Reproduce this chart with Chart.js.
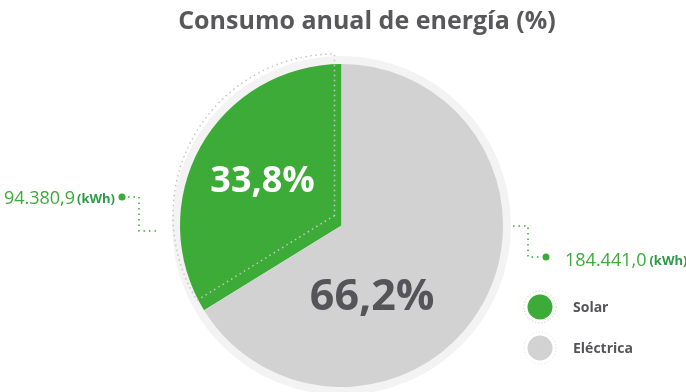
<!DOCTYPE html>
<html>
<head>
<meta charset="utf-8">
<title>Consumo anual de energía</title>
<script src="https://cdn.jsdelivr.net/npm/chart.js@4"></script>
<style>
  html, body { margin: 0; padding: 0; background: #fff; }
  canvas { display: block; }
</style>
</head>
<body>
<canvas id="energyChart" width="686" height="392"></canvas>
<script>
const labels = ['Solar', 'Eléctrica'];
const shares = [33.8, 66.2];
const consumptionKwh = [94380.9, 184441.0];
const colors = ['#3dab37', '#d2d2d2'];
const title = 'Consumo anual de energía (%)';

// 94380.9 -> "94.380,9"
function formatKwh(v) {
    const parts = v.toFixed(1).split('.');
    return parts[0].replace(/\B(?=(\d{3})+(?!\d))/g, '.') + ',' + parts[1];
}

function dotted(ctx, color, pts) {
    ctx.save();
    ctx.setLineDash([1.5, 4]);
    ctx.lineWidth = 1.5;
    ctx.strokeStyle = color;
    ctx.beginPath();
    ctx.moveTo(pts[0][0], pts[0][1]);
    for (let i = 1; i < pts.length; i++) ctx.lineTo(pts[i][0], pts[i][1]);
    ctx.stroke();
    ctx.restore();
}

function dot(ctx, x, y, r, color) {
    ctx.beginPath();
    ctx.arc(x, y, r, 0, Math.PI * 2);
    ctx.fillStyle = color;
    ctx.fill();
}

const decorations = {
    id: 'decorations',
    beforeDatasetsDraw(chart) {
        const ctx = chart.ctx;
        const a = chart.getDatasetMeta(0).data[0];
        // pale ring behind the pie
        ctx.save();
        dot(ctx, a.x, a.y, a.outerRadius + 8, '#f3f3f3');
        ctx.restore();
    },
    afterDatasetsDraw(chart) {
        const ctx = chart.ctx;
        const meta = chart.getDatasetMeta(0);
        const solar = meta.data[0];
        const elec = meta.data[1];
        const cx = solar.x, cy = solar.y, r = solar.outerRadius;

        // dotted outline of the solar slice, nudged up-left
        ctx.save();
        ctx.setLineDash([1.5, 3.5]);
        ctx.lineWidth = 1.5;
        ctx.strokeStyle = '#c6c6c6';
        const ox = cx - 7, oy = cy - 10;
        ctx.beginPath();
        ctx.moveTo(ox, oy);
        ctx.arc(ox, oy, r, solar.startAngle, solar.endAngle);
        ctx.closePath();
        ctx.stroke();
        ctx.restore();

        // percentage labels
        const pct = v => v.toFixed(1).replace('.', ',') + '%';
        ctx.save();
        ctx.textAlign = 'center';
        ctx.textBaseline = 'middle';
        const mid = (solar.startAngle + solar.endAngle) / 2;
        ctx.font = 'bold 36px "Open Sans"';
        ctx.fillStyle = '#ffffff';
        ctx.fillText(pct(shares[0]), cx + Math.cos(mid) * r * 0.56, cy + Math.sin(mid) * r * 0.56);
        ctx.font = 'bold 43px "Open Sans"';
        ctx.fillStyle = '#555559';
        ctx.fillText(pct(shares[1]), elec.x + r * 0.19, elec.y + r * 0.45);
        ctx.restore();
    },
    afterDraw(chart) {
        const ctx = chart.ctx;
        const green = '#3dab37';
        const darkGreen = '#2b9b47';
        ctx.save();

        // title
        ctx.textAlign = 'center';
        ctx.textBaseline = 'middle';
        ctx.font = 'bold 25px "Open Sans"';
        ctx.fillStyle = '#58585a';
        ctx.fillText(title, 367, 22);

        // left callout (solar)
        dotted(ctx, green, [[128, 197], [139, 197], [139, 231], [156, 231]]);
        dot(ctx, 122, 197, 3.5, green);
        ctx.textBaseline = 'alphabetic';
        ctx.textAlign = 'right';
        ctx.font = 'bold 13px "Open Sans"';
        ctx.fillStyle = darkGreen;
        ctx.fillText('(kWh)', 115, 203);
        const kw = ctx.measureText('(kWh)').width;
        ctx.font = '18px "Open Sans"';
        ctx.fillStyle = green;
        ctx.fillText(formatKwh(consumptionKwh[0]), 115 - kw - 2, 204);

        // right callout (eléctrica)
        dotted(ctx, green, [[513, 226], [528, 226], [528, 257], [541, 257]]);
        dot(ctx, 546, 257, 3.5, green);
        ctx.textAlign = 'left';
        ctx.font = '18px "Open Sans"';
        ctx.fillStyle = green;
        const val = formatKwh(consumptionKwh[1]);
        ctx.fillText(val, 565, 266);
        const vw = ctx.measureText(val).width;
        ctx.font = 'bold 13px "Open Sans"';
        ctx.fillStyle = darkGreen;
        ctx.fillText('(kWh)', 565 + vw + 3, 265);

        // legend
        const rings = ['#a8dca0', '#e2e2e2'];
        labels.forEach((lab, i) => {
            const ly = 307 + i * 41;
            ctx.save();
            ctx.setLineDash([1.2, 2]);
            ctx.lineWidth = 1;
            ctx.strokeStyle = rings[i];
            ctx.beginPath();
            ctx.arc(540, ly, 16, 0, Math.PI * 2);
            ctx.stroke();
            ctx.restore();
            dot(ctx, 540, ly, 12.5, colors[i]);
            ctx.font = 'bold 14px "Open Sans"';
            ctx.fillStyle = '#555559';
            ctx.textAlign = 'left';
            ctx.textBaseline = 'middle';
            ctx.fillText(lab, 573, ly + 1);
        });
        ctx.restore();
    }
};

new Chart(document.getElementById('energyChart'), {
    type: 'pie',
    data: {
        labels: labels,
        datasets: [{
            data: shares,
            backgroundColor: colors,
            borderWidth: 0,
            hoverOffset: 0
        }]
    },
    options: {
        responsive: false,
        animation: false,
        rotation: -360 * shares[0] / 100,
        layout: { padding: { top: 64, bottom: 5, left: 180, right: 183 } },
        plugins: {
            legend: { display: false },
            tooltip: { enabled: false }
        }
    },
    plugins: [decorations]
});
</script>
</body>
</html>
